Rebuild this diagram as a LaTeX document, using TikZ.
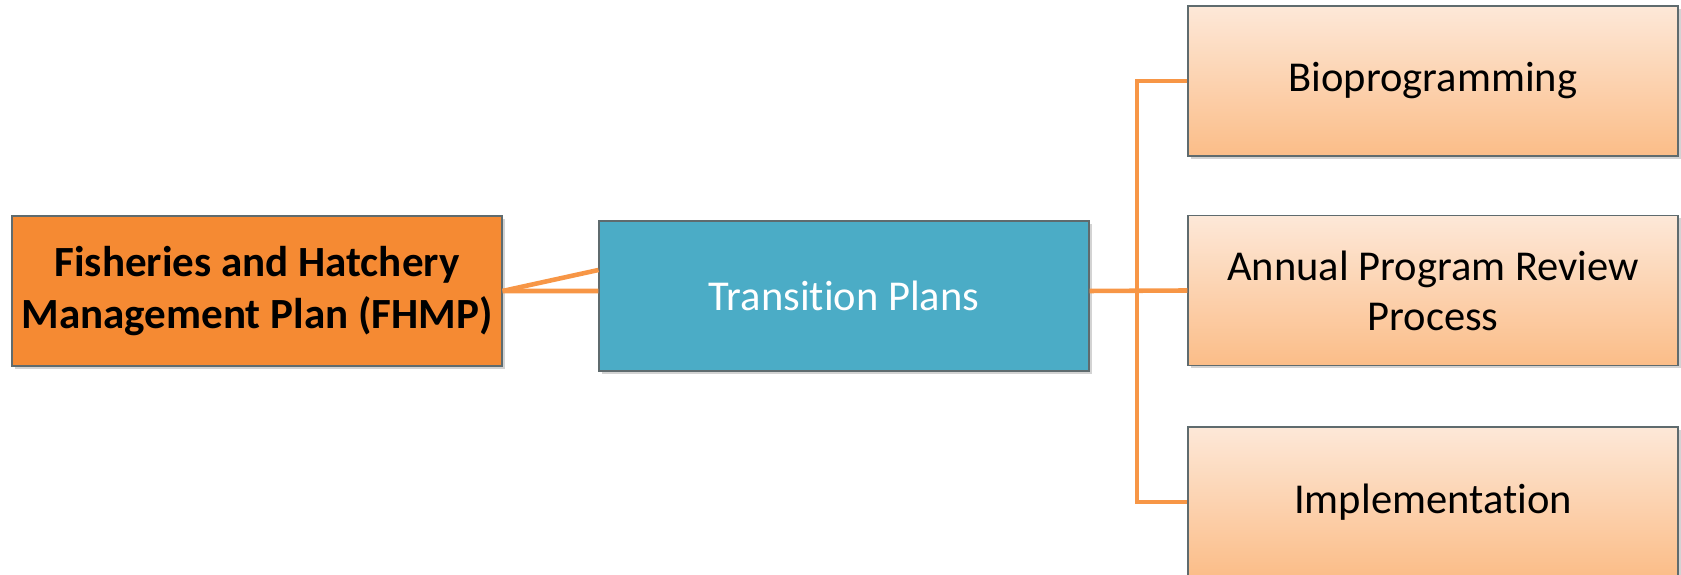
\documentclass[tikz,border=0pt]{standalone}
\usepackage{fontspec}
\setmainfont{Carlito}[Ligatures=NoCommon]
\usetikzlibrary{shadows}

\definecolor{fhmporange}{HTML}{F58A33}
\definecolor{transblue}{HTML}{4BACC6}
\definecolor{peachtop}{HTML}{FDE8D8}
\definecolor{peachbot}{HTML}{FBBD88}
\definecolor{linkorange}{HTML}{F79646}
\definecolor{boxborder}{HTML}{5F6B6E}

\begin{document}
\begin{tikzpicture}
        \tikzstyle{plan}=[draw=boxborder,line width=0.6pt,shape=rectangle,minimum width=9.8cm,minimum height=3cm,
            align=center,font=\fontsize{24.2}{28.5}\selectfont,
            drop shadow={shadow xshift=0.05cm,shadow yshift=-0.06cm,opacity=0.35}]
        \tikzstyle{stepbox}=[plan,top color=peachtop,bottom color=peachbot]
        \tikzstyle{link}=[draw=linkorange,line width=2.6pt]

        \useasboundingbox (0,0) rectangle (33.62,11.5);

        \node[plan,fill=fhmporange,font=\fontsize{24.5}{29.5}\selectfont\bfseries](fhmp) at (5.14,5.68){Fisheries and Hatchery\\Management Plan (FHMP)};
        \node[plan,fill=transblue,text=white](trans) at (16.88,5.58){Transition Plans};

        \node[stepbox](bio) at (28.66,9.88){Bioprogramming};
        \node[stepbox](review) at (28.66,5.69){Annual Program Review\\Process};
        \node[stepbox](impl) at (28.66,1.46){Implementation};

        \coordinate (trunk) at (22.74,5.68);

        \draw[link] (fhmp.east) -- ([yshift=0.52cm]trans.west);
        \draw[link] (fhmp.east) -- ([yshift=0.1cm]trans.west);

        \draw[link] ([yshift=0.1cm]trans.east) -- (review.west);
        \draw[link] (bio.west) -| (trunk) |- (impl.west);

    \end{tikzpicture}
\end{document}
